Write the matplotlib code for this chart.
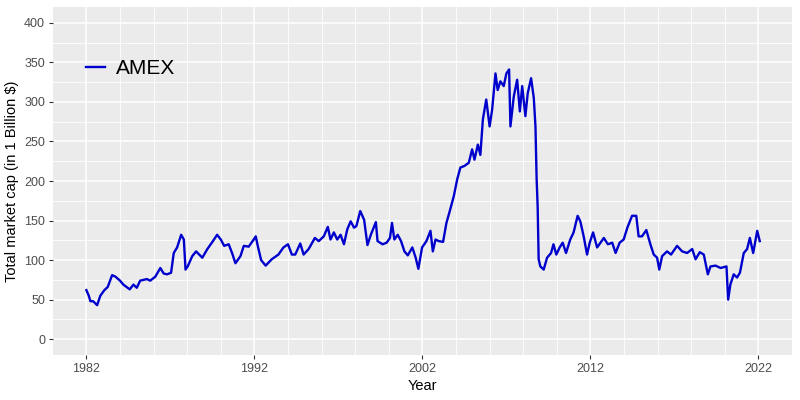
import matplotlib
matplotlib.use("Agg")
import matplotlib.pyplot as plt
import numpy as np

# AMEX total market cap
years = [
    1982.00, 1982.14, 1982.24, 1982.40, 1982.64, 1982.83, 1983.07, 1983.27, 1983.53, 1983.73,
    1984.00, 1984.20, 1984.58, 1984.80, 1985.00, 1985.20, 1985.60, 1985.80, 1986.10, 1986.40,
    1986.60, 1986.80, 1987.04, 1987.20, 1987.40, 1987.64, 1987.80, 1987.90, 1988.03, 1988.30,
    1988.53, 1988.90, 1989.20, 1989.50, 1989.78, 1990.00, 1990.20, 1990.47, 1990.67, 1990.87,
    1991.17, 1991.37, 1991.66, 1991.96, 1992.08, 1992.20, 1992.40, 1992.67, 1993.03, 1993.43,
    1993.73, 1994.00, 1994.23, 1994.43, 1994.73, 1994.93, 1995.23, 1995.60, 1995.83, 1996.13,
    1996.37, 1996.53, 1996.73, 1996.93, 1997.13, 1997.33, 1997.53, 1997.73, 1997.93, 1998.07,
    1998.30, 1998.53, 1998.73, 1998.93, 1999.23, 1999.33, 1999.63, 1999.87, 2000.07, 2000.19,
    2000.33, 2000.53, 2000.73, 2000.93, 2001.13, 2001.40, 2001.60, 2001.76, 2001.98, 2002.24,
    2002.48, 2002.62, 2002.78, 2002.97, 2003.23, 2003.43, 2003.63, 2003.87, 2004.07, 2004.26,
    2004.50, 2004.76, 2004.96, 2005.10, 2005.30, 2005.45, 2005.60, 2005.80, 2006.00, 2006.15,
    2006.35, 2006.48, 2006.64, 2006.84, 2007.00, 2007.16, 2007.24, 2007.44, 2007.64, 2007.80,
    2007.94, 2008.13, 2008.27, 2008.47, 2008.63, 2008.73, 2008.80, 2008.86, 2008.92, 2009.02,
    2009.22, 2009.42, 2009.66, 2009.80, 2009.97, 2010.17, 2010.35, 2010.55, 2010.80, 2011.00,
    2011.24, 2011.40, 2011.60, 2011.80, 2011.96, 2012.16, 2012.40, 2012.60, 2012.80, 2013.04,
    2013.30, 2013.50, 2013.74, 2013.98, 2014.20, 2014.48, 2014.73, 2014.87, 2015.07, 2015.33,
    2015.57, 2015.77, 2015.97, 2016.10, 2016.27, 2016.56, 2016.80, 2017.16, 2017.46, 2017.76,
    2018.06, 2018.26, 2018.51, 2018.75, 2018.99, 2019.15, 2019.45, 2019.75, 2020.10, 2020.20,
    2020.33, 2020.53, 2020.73, 2020.90, 2021.13, 2021.33, 2021.49, 2021.69, 2021.93, 2022.08,
]
amex = [
    62, 55, 48, 48, 43, 55, 62, 66, 81, 79,
    74, 69, 63, 69, 65, 74, 76, 74, 79, 90,
    83, 82, 84, 109, 116, 132, 126, 88, 92, 105,
    111, 103, 114, 123, 132, 126, 118, 120, 109, 96,
    105, 118, 117, 126, 130, 118, 100, 93, 101, 107,
    116, 120, 107, 107, 121, 107, 114, 128, 124, 130,
    142, 126, 135, 126, 132, 120, 139, 149, 141, 143,
    162, 151, 119, 132, 148, 124, 120, 122, 128, 147,
    126, 132, 124, 111, 106, 116, 103, 89, 116, 124,
    137, 111, 126, 124, 123, 147, 162, 181, 202, 217,
    219, 223, 240, 227, 246, 233, 278, 303, 269, 290,
    336, 315, 326, 320, 336, 341, 269, 307, 328, 288,
    320, 282, 311, 330, 305, 269, 202, 168, 101, 92,
    88, 103, 109, 120, 107, 116, 122, 109, 126, 135,
    156, 149, 130, 107, 122, 135, 116, 122, 128, 120,
    122, 109, 122, 126, 141, 156, 156, 130, 130, 138,
    120, 107, 103, 88, 105, 111, 107, 118, 111, 109,
    114, 101, 110, 107, 82, 92, 93, 90, 92, 50,
    69, 82, 78, 84, 109, 114, 128, 109, 137, 124,
]

x_breaks = [1982, 1992, 2002, 2012, 2022]
y_breaks = [0, 50, 100, 150, 200, 250, 300, 350, 400]

plt.rcParams['font.family'] = ['Liberation Sans', 'DejaVu Sans']

fig = plt.figure(figsize=(8, 4), dpi=100)
ax = fig.add_axes([0.066, 0.1125, 0.924, 0.870])
ax.set_facecolor('#EBEBEB')

ax.plot(years, amex, color='#0000CD', linewidth=1.7, label='AMEX')

ax.set_xlim(1980, 2024)
ax.set_ylim(-20, 420)
ax.set_xticks(x_breaks)
ax.set_yticks(y_breaks)
ax.set_xticks(np.arange(1984, 2023, 2), minor=True)
ax.set_yticks(np.arange(25, 400, 50), minor=True)
ax.grid(which='major', color='white', linewidth=1.1)
ax.grid(which='minor', color='white', linewidth=0.6)
ax.set_axisbelow(True)
for s in ax.spines.values():
    s.set_visible(False)
ax.tick_params(which='major', length=3, color='#333333', labelsize=9,
               labelcolor='#4D4D4D', width=0.8, pad=2.5)
ax.tick_params(which='minor', length=0)

ax.set_xlabel('Year', fontsize=10.5, labelpad=3)
ax.set_ylabel('Total market cap (in 1 Billion $)', fontsize=10.5, labelpad=4)

ax.legend(loc='upper left', bbox_to_anchor=(0.02, 0.905), frameon=False,
          fontsize=15, handlelength=0.9, handletextpad=0.5)

fig.savefig('out.png', dpi=100)
